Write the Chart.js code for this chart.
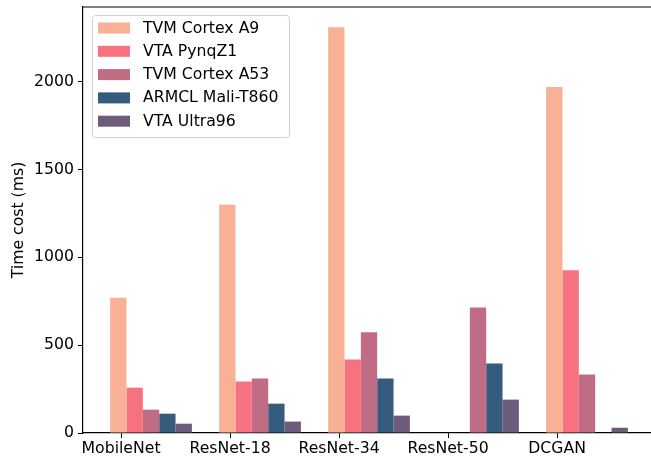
<!DOCTYPE html>
<html>
<head>
<meta charset="utf-8">
<script src="https://cdn.jsdelivr.net/npm/chart.js@4/dist/chart.umd.min.js"></script>
<style>
  html, body { margin: 0; padding: 0; background: #fff; overflow: hidden; }
  #wrap { width: 651px; height: 457px; }
</style>
</head>
<body>
<div id="wrap"><canvas id="chart"></canvas></div>
<script>
// data
const categories = ['MobileNet', 'ResNet-18', 'ResNet-34', 'ResNet-50', 'DCGAN'];
const seriesNames = ['TVM Cortex A9', 'VTA PynqZ1', 'TVM Cortex A53', 'ARMCL Mali-T860', 'VTA Ultra96'];
const tvmA9    = [770, 1300, 2310, null, 1970];
const vtaPynq  = [258, 293, 418, null, 926];
const tvmA53   = [133, 310, 573, 715, 333];
const armclMali = [110, 167, 310, 395, null];
const vtaUltra = [53, 65, 99, 190, 30];
const yTicks = [0, 500, 1000, 1500, 2000];

const colors = ['#f8b195', '#f67280', '#c06c84', '#355c7d', '#6c5b7b'];
const allSeries = [tvmA9, vtaPynq, tvmA53, armclMali, vtaUltra];

// the tick sits under the first bar, not the middle of the group
const TICK_SHIFT = 0.275;
const FONT = 'DejaVu Sans';
const FS = 15.7;

const datasets = allSeries.map((vals, k) => ({
    label: seriesNames[k],
    data: vals.map((v, i) => ({ x: i, y: v })),
    backgroundColor: colors[k],
    borderWidth: 0,
    categoryPercentage: 0.75,
    barPercentage: 1.0
}));

// legend drawn inside the axes, matplotlib style
const innerLegend = {
    id: 'innerLegend',
    afterDraw(chart) {
        const ctx = chart.ctx;
        const x0 = 92, y0 = 15, w = 197, h = 122;
        ctx.save();
        ctx.fillStyle = 'rgba(255,255,255,0.8)';
        ctx.strokeStyle = '#d0d0d0';
        ctx.lineWidth = 1;
        ctx.beginPath();
        ctx.roundRect(x0 + 0.5, y0 + 0.5, w, h, 3);
        ctx.fill();
        ctx.stroke();
        ctx.font = FS + 'px "' + FONT + '"';
        ctx.textBaseline = 'middle';
        chart.data.datasets.forEach((ds, k) => {
            const cy = y0 + 13 + k * 23.3;
            ctx.fillStyle = ds.backgroundColor;
            ctx.fillRect(98, cy - 5.5, 32, 11);
            ctx.fillStyle = '#000';
            ctx.fillText(ds.label, 143, cy + 0.5);
        });
        ctx.restore();
    }
};

// top spine
const topSpine = {
    id: 'topSpine',
    afterDraw(chart) {
        const a = chart.chartArea, ctx = chart.ctx;
        ctx.save();
        ctx.strokeStyle = '#000';
        ctx.lineWidth = 1.2;
        ctx.beginPath();
        ctx.moveTo(a.left, a.top);
        ctx.lineTo(a.right, a.top);
        ctx.stroke();
        ctx.restore();
    }
};

new Chart(document.getElementById('chart'), {
    type: 'bar',
    data: { datasets },
    options: {
        responsive: true,
        maintainAspectRatio: false,
        animation: false,
        layout: { padding: { top: 7, right: 0, left: 0, bottom: 0 } },
        plugins: {
            legend: { display: false },
            tooltip: { enabled: false }
        },
        scales: {
            x: {
                type: 'linear',
                offset: false,
                min: -0.624,
                max: 4.587,
                afterBuildTicks: axis => {
                    axis.ticks = categories.map((c, i) => ({ value: i - TICK_SHIFT }));
                },
                afterFit: scale => {
                    scale.height = 24;
                    scale.paddingLeft = 0;
                    scale.paddingRight = 0;
                },
                ticks: {
                    callback: (v, i) => categories[i],
                    color: '#000',
                    font: { family: FONT, size: FS },
                    padding: 2,
                    maxRotation: 0,
                    autoSkip: false
                },
                grid: { offset: false, drawOnChartArea: false, drawTicks: true, tickLength: 5, color: '#000', lineWidth: 1 },
                border: { display: true, color: '#000', width: 1.2 }
            },
            y: {
                min: 0,
                max: 2425,
                afterBuildTicks: axis => {
                    axis.ticks = yTicks.map(v => ({ value: v }));
                },
                afterFit: scale => {
                    scale.width = 83;
                    scale.paddingTop = 0;
                    scale.paddingBottom = 0;
                },
                ticks: {
                    callback: v => String(v),
                    color: '#000',
                    font: { family: FONT, size: FS },
                    padding: 4
                },
                title: {
                    display: true,
                    text: 'Time cost (ms)',
                    color: '#000',
                    font: { family: FONT, size: FS },
                    padding: { top: 10, bottom: 0 }
                },
                grid: { drawOnChartArea: false, drawTicks: true, tickLength: 5, color: '#000', lineWidth: 1 },
                border: { display: true, color: '#000', width: 1.2 }
            }
        }
    },
    plugins: [innerLegend, topSpine]
});
</script>
</body>
</html>
